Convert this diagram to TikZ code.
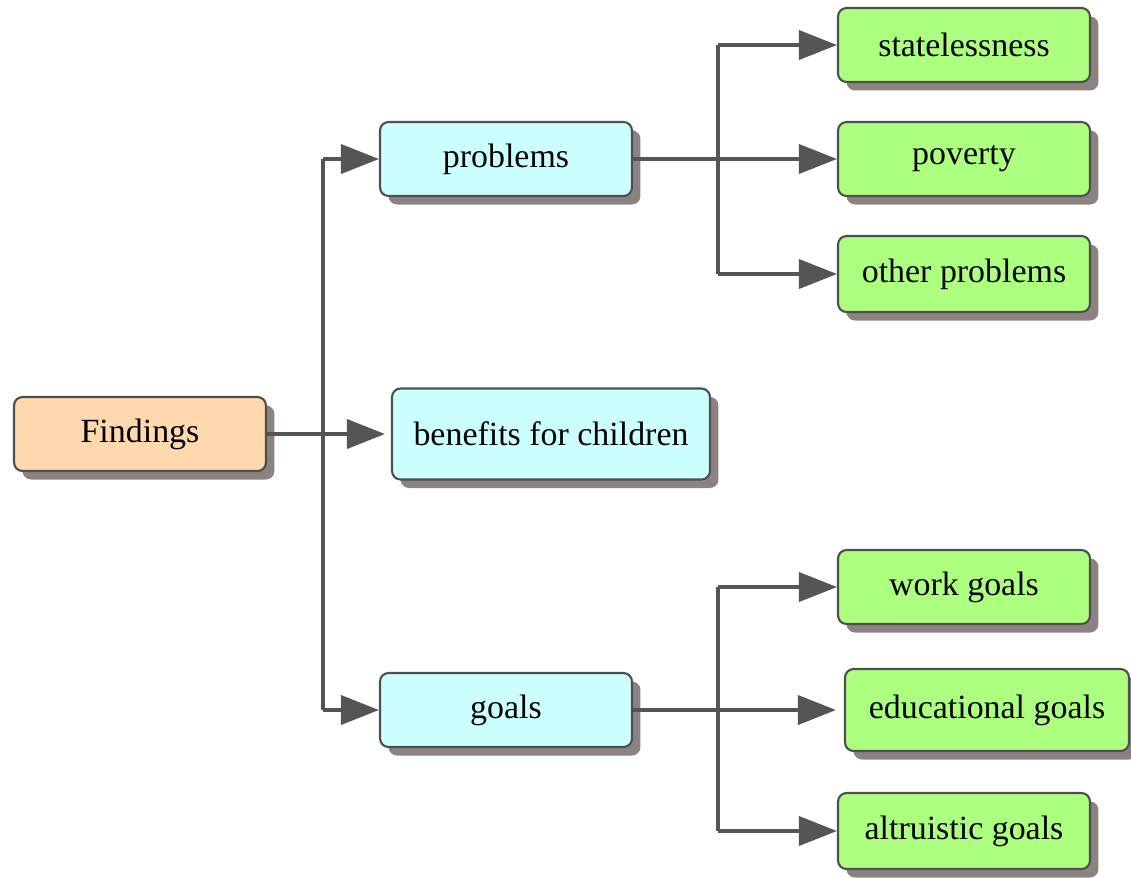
\documentclass[tikz,border=0pt]{standalone}
\usepackage{fontspec}
\setmainfont{Liberation Serif}
\usetikzlibrary{arrows.meta,shadows}

\definecolor{rootfill}{HTML}{FFD8AE}
\definecolor{midfill}{HTML}{CCFFFF}
\definecolor{leaffill}{HTML}{ADFF80}
\definecolor{boxline}{HTML}{4F4F4F}
\definecolor{shadowgray}{HTML}{8C8282}
\definecolor{linkgray}{HTML}{555555}

\tikzset{
  box/.style={draw=boxline,line width=1.2pt,rounded corners=0.17cm,minimum width=5.04cm,minimum height=1.48cm,
    font=\fontsize{19.3}{23}\selectfont,
    drop shadow={shadow xshift=0.17cm,shadow yshift=-0.17cm,fill=shadowgray,opacity=1}},
  rootbox/.style={box,fill=rootfill},
  midbox/.style={box,fill=midfill},
  leafbox/.style={box,fill=leaffill},
  link/.style={draw=linkgray,line width=2.1pt},
  arr/.style={link,-{Triangle[length=0.76cm,width=0.58cm]}}
}

\begin{document}
\begin{tikzpicture}[x=0.02cm,y=-0.02cm]
		\useasboundingbox (0,0) rectangle (1131,877);
		\node[rootbox] (findings) at (140,434) {Findings};
		\node[midbox] (problems) at (506,159) {problems};
		\node[midbox,minimum width=6.36cm,minimum height=1.82cm] (benefits) at (551,434) {benefits for children};
		\node[midbox] (goals) at (506,710) {goals};
		\node[leafbox] (stateless) at (964,45) {statelessness};
		\node[leafbox] (poverty) at (964,159) {poverty};
		\node[leafbox,minimum height=1.52cm] (otherprob) at (964,274) {other problems};
		\node[leafbox] (workgoals) at (964,587) {work goals};
		\node[leafbox,minimum width=5.68cm,minimum height=1.64cm] (edugoals) at (987,710) {educational goals};
		\node[leafbox,minimum height=1.52cm] (altgoals) at (964,831) {altruistic goals};
		\coordinate (fork) at (323,434);
		\coordinate (probfork) at (718,159);
		\coordinate (goalfork) at (718,710);
		% Findings
		\draw[arr] (findings.east) -- ([xshift=-0.12cm]benefits.west);
		\draw[link] (fork |- problems) -- (fork |- goals);
		\draw[arr] (fork |- problems) -- (problems.west);
		\draw[arr] (fork |- goals) -- (goals.west);
		% problems
		\draw[arr] (problems.east) -- (poverty.west);
		\draw[link] (probfork |- stateless) -- (probfork |- otherprob);
			\draw[arr] (probfork |- stateless) -- (stateless.west);
			\draw[arr] (probfork |- otherprob) -- (otherprob.west);
		% goals
		\draw[arr] (goals.east) -- ([xshift=-0.16cm]edugoals.west);
		\draw[link] (goalfork |- workgoals) -- (goalfork |- altgoals);
			\draw[arr] (goalfork |- workgoals) -- (workgoals.west);
			\draw[arr] (goalfork |- altgoals) -- (altgoals.west);
\end{tikzpicture}
\end{document}
